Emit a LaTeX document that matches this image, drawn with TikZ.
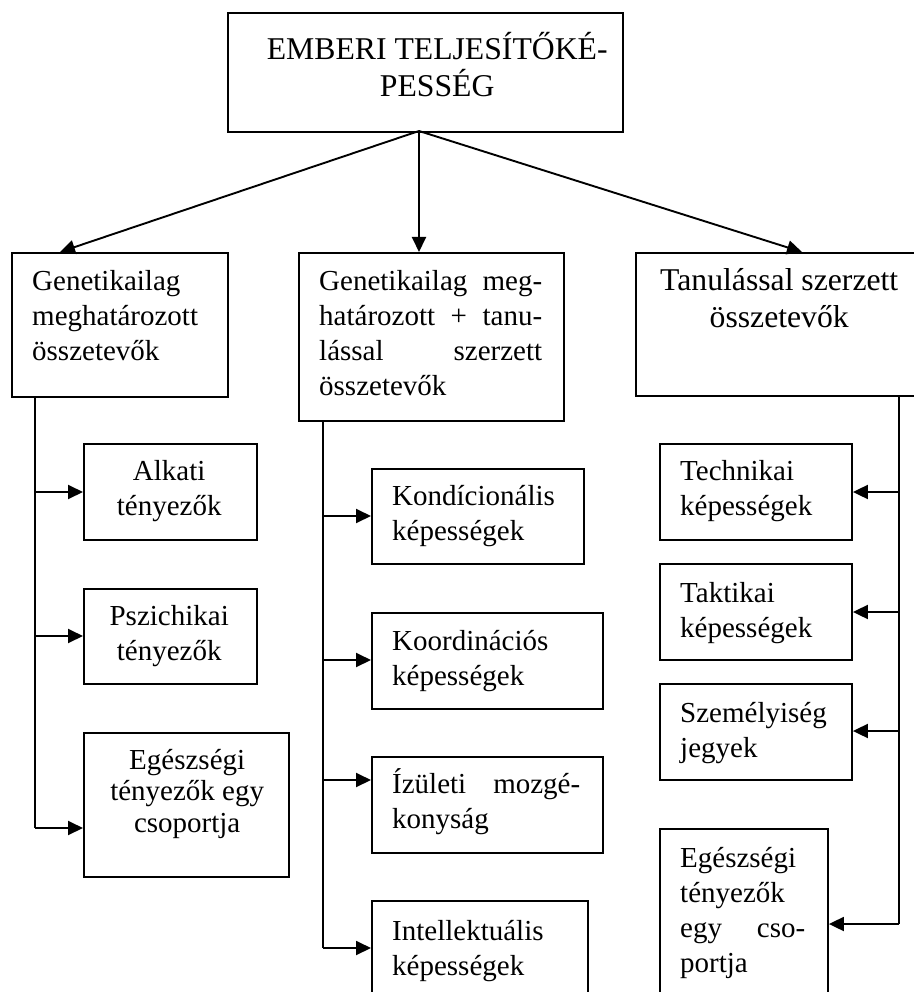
\documentclass[tikz,border=0pt]{standalone}
\usepackage{fontspec}
\setmainfont{Liberation Serif}
\usetikzlibrary{arrows.meta,calc}
\newcommand{\bfs}{\fontsize{29}{35}\selectfont}
\newcommand{\tfs}{\fontsize{31.7}{37}\selectfont}
\newcommand{\bxn}[5]{\node[bx, minimum width={(#4-#2)*1pt}, minimum height={(#5-#3)*1pt}] (#1) at (#2,#3) {};}
\begin{document}
\begin{tikzpicture}[x=1pt,y=-1pt,
  bx/.style={draw, line width=1.9pt, inner sep=0pt, anchor=north west},
  tx/.style={anchor=base west, inner sep=0pt},
  conn/.style={line width=1.9pt},
  arr/.style={conn, -{Triangle[length=15pt,width=14pt]}}]
\useasboundingbox (0,0) rectangle (913,992);
% boxes
\bxn{title}{227}{12}{622}{131}
\bxn{gen}{11}{252}{227}{396}
\bxn{mix}{298}{252}{563}{420}
\bxn{tan}{635}{252}{925}{395}
\bxn{alk}{83}{443}{256}{539}
\bxn{psz}{83}{588}{256}{683}
\bxn{egl}{83}{732}{288}{876}
\bxn{kon}{371}{468}{583}{563}
\bxn{koo}{371}{612}{602}{708}
\bxn{izu}{371}{756}{602}{852}
\bxn{int}{371}{900}{587}{1005}
\bxn{tec}{659}{443}{851}{539}
\bxn{tak}{659}{563}{851}{659}
\bxn{sze}{659}{683}{851}{779}
\bxn{egr}{659}{828}{827}{1005}
% texts
\node[tx] (ttitle) at (237,60) {\parbox[t]{400pt}{\tfs\centering EMBERI TELJESÍTŐKÉ-\\PESSÉG}};
\node[tx] (tgen) at (32,290) {\parbox[t]{195pt}{\bfs\raggedright Genetikailag\\meghatározott\\összetevők}};
\node[tx] (tmix) at (319,290) {\parbox[t]{223pt}{\bfs Genetikailag\hfill meg-\\határozott\hfill +\hfill tanu-\\lással\hfill szerzett\\összetevők\hfill\mbox{}}};
\node[tx] (ttan) at (644,290) {\parbox[t]{270pt}{\tfs\centering Tanulással szerzett\\összetevők}};
\node[tx] (talk) at (89,480) {\parbox[t]{160pt}{\bfs\centering Alkati\\tényezők}};
\node[tx] (tpsz) at (89,625) {\parbox[t]{160pt}{\bfs\centering Pszichikai\\tényezők}};
\node[tx] (tegl) at (92,769) {\parbox[t]{190pt}{\fontsize{29}{31.5}\selectfont\centering Egészségi\\tényezők egy\\csoportja}};
\node[tx] (tkon) at (392,505) {\parbox[t]{190pt}{\bfs\raggedright Kondícionális\\képességek}};
\node[tx] (tkoo) at (392,650) {\parbox[t]{190pt}{\bfs\raggedright Koordinációs\\képességek}};
\node[tx] (tizu) at (392,793) {\parbox[t]{188pt}{\bfs Ízületi\hfill mozgé-\\konyság\hfill\mbox{}}};
\node[tx] (tint) at (392,940) {\parbox[t]{190pt}{\bfs\raggedright Intellektuális\\képességek}};
\node[tx] (ttec) at (680,480) {\parbox[t]{160pt}{\bfs\raggedright Technikai\\képességek}};
\node[tx] (ttak) at (680,602) {\parbox[t]{160pt}{\bfs\raggedright Taktikai\\képességek}};
\node[tx] (tsze) at (680,722) {\parbox[t]{160pt}{\bfs\raggedright Személyiség\\jegyek}};
\node[tx] (tegr) at (680,867) {\parbox[t]{125pt}{\bfs Egészségi\hfill\mbox{}\\tényezők\hfill\mbox{}\\egy\hfill cso-\\portja\hfill\mbox{}}};
% top connectors
\coordinate (ts) at (419,131);
\draw[arr] (ts) -- (gen.north west -| 60,0);
\draw[arr] (ts) -- (mix.north west -| 419,0);
\draw[arr] (ts) -- (tan.north west -| 802,0);
% left trunk
\coordinate (lt0) at (35,396);
\coordinate (lt1) at (35,492);
\coordinate (lt2) at (35,636);
\coordinate (lt3) at (35,828);
\draw[conn] (lt0) -- (lt3);
\draw[arr] (lt1) -- (lt1 -| alk.west);
\draw[arr] (lt2) -- (lt2 -| psz.west);
\draw[arr] (lt3) -- (lt3 -| egl.west);
% middle trunk
\coordinate (mt0) at (323,420);
\coordinate (mt1) at (323,516);
\coordinate (mt2) at (323,660);
\coordinate (mt3) at (323,780);
\coordinate (mt4) at (323,948);
\draw[conn] (mt0) -- (mt4);
\draw[arr] (mt1) -- (mt1 -| kon.west);
\draw[arr] (mt2) -- (mt2 -| koo.west);
\draw[arr] (mt3) -- (mt3 -| izu.west);
\draw[arr] (mt4) -- (mt4 -| int.west);
% right trunk
\coordinate (rt0) at (899,395);
\coordinate (rt1) at (899,492);
\coordinate (rt2) at (899,612);
\coordinate (rt3) at (899,731);
\coordinate (rt4) at (899,924);
\draw[conn] (rt0) -- (rt4);
\draw[arr] (rt1) -- (rt1 -| tec.east);
\draw[arr] (rt2) -- (rt2 -| tak.east);
\draw[arr] (rt3) -- (rt3 -| sze.east);
\draw[arr] (rt4) -- (rt4 -| egr.east);
\end{tikzpicture}
\end{document}
